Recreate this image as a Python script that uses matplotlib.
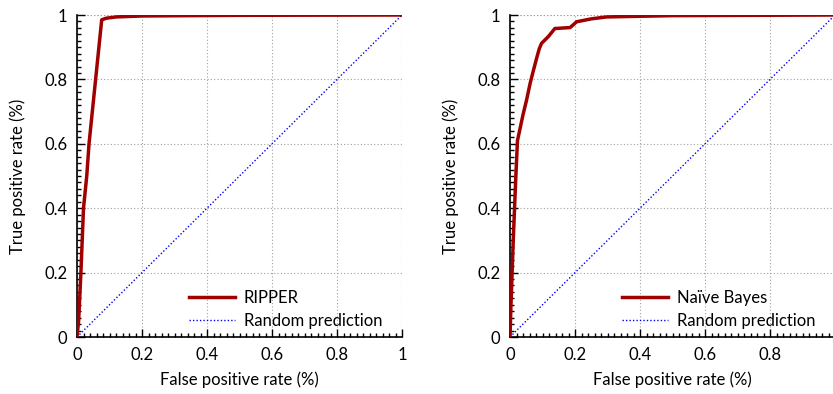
import numpy as np
import matplotlib
matplotlib.use('Agg')
import matplotlib.pyplot as plt
from matplotlib.ticker import MultipleLocator, FuncFormatter

plt.rcParams['font.family'] = ['Lato', 'DejaVu Sans']

# ROC points
ripper_fpr = [0.0, 0.005, 0.012, 0.02, 0.03, 0.037, 0.076, 0.09, 0.12, 0.2, 0.5, 1.0]
ripper_tpr = [0.0, 0.05, 0.2, 0.4, 0.5, 0.6, 0.985, 0.99, 0.994, 0.997, 0.999, 1.0]

nb_fpr = [0.0, 0.003, 0.01, 0.018, 0.023, 0.04, 0.051, 0.062, 0.07, 0.082, 0.09, 0.097,
          0.118, 0.138, 0.185, 0.195, 0.205, 0.25, 0.297, 0.5, 1.0]
nb_tpr = [0.0, 0.1, 0.3, 0.5, 0.61, 0.69, 0.736, 0.788, 0.82, 0.866, 0.895, 0.912,
          0.933, 0.958, 0.961, 0.97, 0.979, 0.988, 0.994, 0.998, 1.0]

rand_x = [0.0, 1.0]
rand_y = [0.0, 1.0]

W, H = 833, 394
fig = plt.figure(figsize=(W / 100, H / 100), dpi=100)

fmt = FuncFormatter(lambda v, p: '%g' % round(v, 3))


def make_panel(left_px, fpr, tpr, name, xticks):
    ax = fig.add_axes([left_px / W, (H - 337) / H, 325 / W, 322 / H])
    ax.plot(fpr, tpr, color='#a00000', lw=2.5, label=name, zorder=3)
    ax.plot(rand_x, rand_y, color='#0000ff', lw=1, ls=(0, (1, 1.5)), label='Random prediction', zorder=2)
    ax.set_xlim(0, 1)
    ax.set_ylim(0, 1)
    ax.set_xticks(xticks)
    ax.set_yticks([0, 0.2, 0.4, 0.6, 0.8, 1.0])
    ax.xaxis.set_minor_locator(MultipleLocator(0.02))
    ax.yaxis.set_minor_locator(MultipleLocator(0.02))
    ax.xaxis.set_major_formatter(fmt)
    ax.yaxis.set_major_formatter(fmt)
    ax.tick_params(which='major', direction='in', length=6, width=1, labelsize=12, pad=7)
    ax.tick_params(which='minor', direction='in', length=3, width=1)
    ax.spines['top'].set_visible(False)
    ax.spines['right'].set_visible(False)
    ax.spines['left'].set_linewidth(1.2)
    ax.spines['bottom'].set_linewidth(1.2)
    ax.grid(True, which='major', color='#a0a0a0', ls=(0, (1, 2)), lw=0.8)
    ax.axhline(1.0, color='#a0a0a0', ls=(0, (1, 2)), lw=0.8, zorder=1)
    ax.axvline(1.0, color='#a0a0a0', ls=(0, (1, 2)), lw=0.8, zorder=1)
    ax.set_xlabel('False positive rate (%)', fontsize=12, labelpad=6)
    ax.set_ylabel('True positive rate (%)', fontsize=12, labelpad=13)
    ax.legend(loc='lower right', frameon=False, fontsize=12, handlelength=2.8,
              handletextpad=0.5, borderaxespad=0.1, labelspacing=0.4,
              bbox_to_anchor=(0.965, 0.0))
    for t in ax.get_xticklabels() + ax.get_yticklabels():
        t.set_clip_on(False)
    return ax


make_panel(77, ripper_fpr, ripper_tpr, 'RIPPER', [0, 0.2, 0.4, 0.6, 0.8, 1.0])
make_panel(510, nb_fpr, nb_tpr, 'Naïve Bayes', [0, 0.2, 0.4, 0.6, 0.8])

fig.savefig('out.png', dpi=100)
